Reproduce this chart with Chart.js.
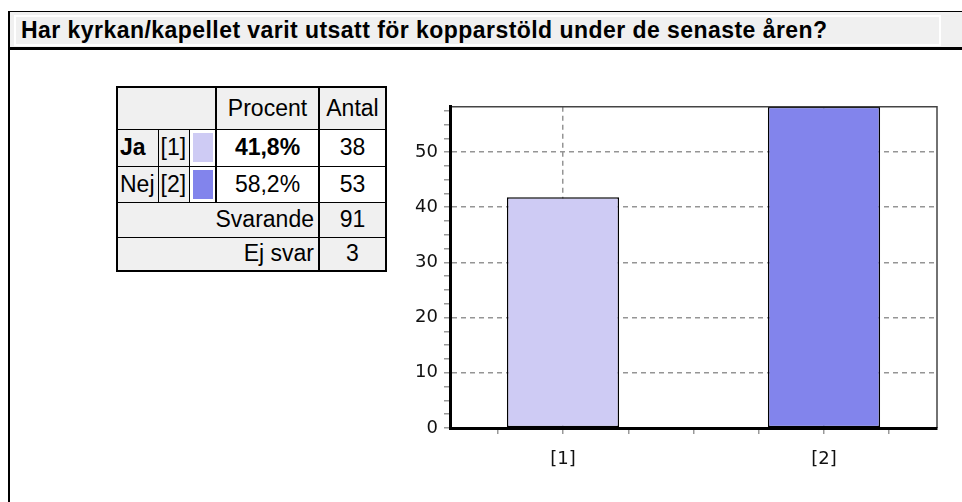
<!DOCTYPE html>
<html>
<head>
<meta charset="utf-8">
<script src="https://cdn.jsdelivr.net/npm/chart.js@4.4.0/dist/chart.umd.min.js"></script>
<style>
  body { margin: 0; width: 962px; height: 502px; overflow: hidden; background: #fff; position: relative;
         font-family: "Liberation Sans", Arial, sans-serif; color: #000; }
  #ram { position: absolute; left: 8px; top: 11px; right: 0; height: 500px;
         border-left: 2px solid #000; border-top: 1px solid #000; }
  #rubrik { position: absolute; left: 10px; top: 12px; right: 0; height: 35px;
            background: #f0f0f0; border-bottom: 3px solid #000; }
  #rubrikText { position: absolute; left: 14px; top: 15px; width: 927px; height: 31px; box-sizing: border-box;
                border: 2px solid #fff; font-weight: bold; font-size: 23px; letter-spacing: 0.45px;
                line-height: 26px; padding-left: 5px; white-space: nowrap; }
  #tabell { position: absolute; left: 116px; top: 86px; border-collapse: collapse; table-layout: fixed;
            width: 269px; border: 2px solid #000; font-size: 23px; }
  #tabell td { border: 1px solid #000; padding: 0 2px; white-space: nowrap; overflow: hidden; }
  #tabell .gra { background: #f0f0f0; }
  #tabell .vit { background: #fff; }
  #tabell .tjock { border-left: 2px solid #000; }
  #tabell .ruta { padding: 0 0 0 3px; }
  #tabell .ruta div { width: 20px; height: 29px; }
  #diagram { position: absolute; left: 390px; top: 90px; width: 572px; height: 400px; }
</style>
</head>
<body>
<div id="ram"></div>
<div id="rubrik"></div>
<div id="rubrikText">Har kyrkan/kapellet varit utsatt för kopparstöld under de senaste åren?</div>
<table id="tabell">
  <colgroup><col style="width:41px"><col style="width:31px"><col style="width:27px"><col style="width:103px"><col style="width:67px"></colgroup>
  <tbody id="tabellKropp"></tbody>
</table>
<div id="diagram"><canvas id="chartKoppar" width="572" height="400"></canvas></div>

<script>
// Svarsalternativ
const svar = ['Ja', 'Nej'];
const koder = ['[1]', '[2]'];
// Procent och antal per alternativ
const procent = [41.8, 58.2];
const antal = [38, 53];
const procentText = ['41,8%', '58,2%'];
const svarande = 91;
const ejSvar = 3;
// Färger
const farger = ['#cecbf4', '#8284ec'];
// Axelmarkeringar
const yMarkeringar = [0, 2.5, 5, 7.5, 10, 12.5, 15, 17.5, 20, 22.5, 25, 27.5, 30, 32.5, 35, 37.5, 40, 42.5, 45, 47.5, 50, 52.5, 55, 57.5];
const xMarkeringar = [0.75, 1, 1.25, 1.5, 1.75, 2, 2.25];

// Tabellen
const kropp = document.getElementById('tabellKropp');
const hogRader = [42, 37, 36, 35, 34];

let rad = kropp.insertRow();
rad.style.height = hogRader[0] + 'px';
let c = rad.insertCell(); c.colSpan = 3; c.className = 'gra';
c = rad.insertCell(); c.className = 'gra tjock'; c.textContent = 'Procent'; c.style.textAlign = 'center';
c = rad.insertCell(); c.className = 'gra tjock'; c.textContent = 'Antal'; c.style.textAlign = 'center';

svar.forEach((namn, i) => {
    const r = kropp.insertRow();
    r.style.height = hogRader[i + 1] + 'px';
    let cell = r.insertCell(); cell.className = 'gra'; cell.textContent = namn;
    if (i === 0) cell.style.fontWeight = 'bold';
    cell = r.insertCell(); cell.className = 'gra'; cell.textContent = koder[i];
    cell = r.insertCell(); cell.className = 'vit ruta';
    const ruta = document.createElement('div'); ruta.style.background = farger[i]; cell.appendChild(ruta);
    cell = r.insertCell(); cell.className = 'vit tjock'; cell.textContent = procentText[i]; cell.style.textAlign = 'center';
    if (i === 0) cell.style.fontWeight = 'bold';
    cell = r.insertCell(); cell.className = 'vit tjock'; cell.textContent = antal[i]; cell.style.textAlign = 'center';
});

[['Svarande', svarande], ['Ej svar', ejSvar]].forEach(([namn, v], i) => {
    const r = kropp.insertRow();
    r.style.height = hogRader[i + 3] + 'px';
    let cell = r.insertCell(); cell.colSpan = 4; cell.className = 'gra'; cell.textContent = namn;
    cell.style.textAlign = 'right'; cell.style.paddingRight = '4px';
    cell = r.insertCell(); cell.className = 'gra tjock'; cell.textContent = v; cell.style.textAlign = 'center';
});

// Diagrammet
const tickFont = { family: '"DejaVu Sans", sans-serif', size: 18 };
const gridFarg = '#959595';

const ramPlugin = {
    id: 'ram',
    afterDatasetsDraw(chart) {
        const { ctx, chartArea: a } = chart;
        ctx.save();
        ctx.strokeStyle = '#444';
        ctx.lineWidth = 1.5;
        ctx.beginPath();
        ctx.moveTo(a.left, a.top);
        ctx.lineTo(a.right, a.top);
        ctx.lineTo(a.right, a.bottom);
        ctx.stroke();
        ctx.restore();
    }
};

new Chart(document.getElementById('chartKoppar'), {
    type: 'bar',
    data: {
        datasets: [{
            data: procent.map((v, i) => ({ x: i + 1, y: v })),
            backgroundColor: farger,
            borderColor: '#000',
            borderWidth: 1.5,
            borderSkipped: false,
            barPercentage: 1.72,
            categoryPercentage: 1
        }]
    },
    options: {
        responsive: false,
        animation: false,
        layout: { padding: { top: 13, right: 25, left: 0, bottom: 0 } },
        plugins: { legend: { display: false }, tooltip: { enabled: false } },
        scales: {
            x: {
                type: 'linear',
                offset: false,
                min: 1 - 0.433,
                max: svar.length + 0.433,
                afterBuildTicks: (axis) => { axis.ticks = xMarkeringar.map(v => ({ value: v })); },
                afterFit: (axis) => { axis.height = 62; },
                ticks: {
                    autoSkip: false,
                    maxRotation: 0,
                    padding: 15,
                    color: '#111',
                    font: tickFont,
                    callback: (v) => Number.isInteger(v) ? koder[v - 1] : ''
                },
                grid: {
                    offset: false,
                    color: (ctx) => (ctx.tick && Number.isInteger(ctx.tick.value)) ? gridFarg : 'rgba(0,0,0,0)',
                    lineWidth: 1.5,
                    tickColor: '#999',
                    tickLength: 6,
                    tickWidth: 1.5
                },
                border: { color: '#000', width: 3, dash: [5, 4], z: 1 }
            },
            y: {
                min: 0,
                max: Math.max(...procent),
                afterBuildTicks: (axis) => { axis.ticks = yMarkeringar.map(v => ({ value: v })); },
                afterFit: (axis) => { axis.width = 60; },
                ticks: {
                    autoSkip: false,
                    padding: 6,
                    color: '#111',
                    font: tickFont,
                    callback: (v) => v % 10 === 0 ? v : ''
                },
                grid: {
                    color: (ctx) => (ctx.tick && ctx.tick.value % 10 === 0 && ctx.tick.value > 0) ? gridFarg : 'rgba(0,0,0,0)',
                    lineWidth: 1.5,
                    tickColor: '#999',
                    tickLength: 6,
                    tickWidth: 1.5
                },
                border: { color: '#000', width: 3, dash: [5, 4], z: 1 }
            }
        }
    },
    plugins: [ramPlugin]
});
</script>
</body>
</html>
